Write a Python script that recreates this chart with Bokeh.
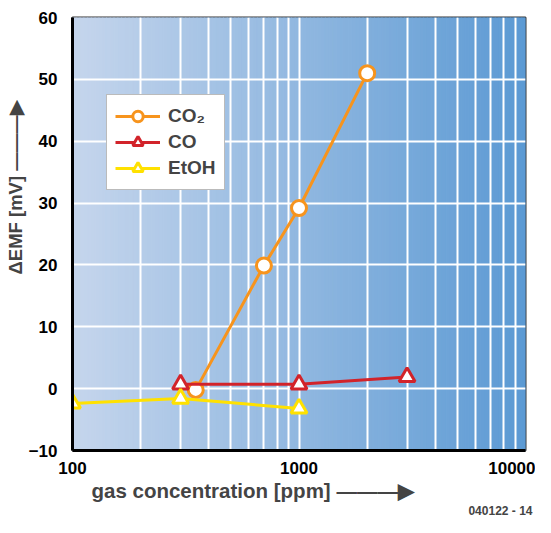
import numpy as np
from bokeh.plotting import figure
from bokeh.models import (Range1d, FixedTicker, Legend, LegendItem, Title,
                          CustomJSTickFormatter)
from bokeh.embed import file_html
from bokeh.resources import INLINE

# ---- data ----
co2_x = [350, 700, 1000, 2000]
co2_y = [-0.2, 19.9, 29.2, 51.0]
co_x = [300, 1000, 3000]
co_y = [0.7, 0.7, 1.9]
etoh_x = [100, 300, 1000]
etoh_y = [-2.4, -1.6, -3.2]
x_ticks = [100, 1000, 10000]
y_ticks = [-10, 0, 10, 20, 30, 40, 50, 60]

FONT = "Liberation Sans"
ARROW = "\u2014\u2014\u2014\u25B6"

p = figure(width=535, height=517, x_axis_type="log",
           x_range=Range1d(100, 10000), y_range=Range1d(-10, 60),
           output_backend="svg", toolbar_location=None,
           min_border_left=72, min_border_right=10, min_border_top=17,
           min_border_bottom=60)

# gradient background
N = 120
edges = np.logspace(2, 4, N + 1)
c0 = np.array([198, 214, 237])
c1 = np.array([92, 154, 212])
cols = []
for i in range(N):
    t = (i + 0.5) / N
    c = (c0 * (1 - t) + c1 * t).astype(int)
    cols.append("#%02x%02x%02x" % tuple(c))
p.quad(left=edges[:-1], right=edges[1:], bottom=-10, top=60, fill_color=cols,
       line_color=cols, line_width=1, level="underlay")

p.xgrid.grid_line_color = "white"
p.ygrid.grid_line_color = "white"
p.xgrid.grid_line_width = 2
p.ygrid.grid_line_width = 2
p.xgrid.minor_grid_line_color = "white"
p.xgrid.minor_grid_line_width = 2
p.xgrid.level = "underlay"
p.ygrid.level = "underlay"

p.xaxis.ticker = FixedTicker(ticks=x_ticks,
                             minor_ticks=[v * m for v in [100, 1000] for m in range(2, 10)])
p.yaxis.ticker = FixedTicker(ticks=y_ticks)
for ax in (p.xaxis, p.yaxis):
    ax.axis_line_width = 3
    ax.axis_line_color = "black"
    ax.major_tick_line_color = None
    ax.minor_tick_line_color = None
    ax.major_label_text_font = FONT
    ax.major_label_text_font_style = "bold"
    ax.major_label_text_font_size = "17px"
    ax.major_label_text_color = "black"
p.xaxis.major_label_standoff = 5
p.yaxis.major_label_standoff = 9
p.xaxis.formatter = CustomJSTickFormatter(code="return tick.toFixed(0);")

p.outline_line_color = "#333333"
p.outline_line_width = 2

# axis titles with arrows, and the figure code
p.add_layout(Title(text="gas concentration [ppm]  " + ARROW, align="left", offset=19,
                   text_font=FONT, text_font_style="bold", text_font_size="20.5px",
                   standoff=0), "below")
p.add_layout(Title(text="040122 - 14", align="right", offset=-7,
                   text_font=FONT, text_font_style="bold", text_font_size="12px",
                   standoff=0), "below")
p.add_layout(Title(text="\u0394EMF [mV]  " + ARROW, align="left", offset=176,
                   text_font=FONT, text_font_style="bold", text_font_size="18.5px",
                   standoff=0), "left")

# series
l1 = p.line(co2_x, co2_y, line_color="#f7941d", line_width=3)
m1 = p.scatter(co2_x, co2_y, marker="circle", size=15, fill_color="white",
               line_color="#f7941d", line_width=3)
l2 = p.line(co_x, co_y, line_color="#d2232a", line_width=3)
m2 = p.scatter(co_x, co_y, marker="triangle", size=16, fill_color="white",
               line_color="#d2232a", line_width=3)
l3 = p.line(etoh_x, etoh_y, line_color="#ffe100", line_width=3)
m3 = p.scatter(etoh_x, etoh_y, marker="triangle", size=16, fill_color="white",
               line_color="#ffe100", line_width=3)

legend = Legend(items=[LegendItem(label="CO\u2082", renderers=[l1, m1]),
                       LegendItem(label="CO", renderers=[l2, m2]),
                       LegendItem(label="EtOH", renderers=[l3, m3])],
                location=(34, 260))
legend.label_text_font = FONT
legend.label_text_font_style = "bold"
legend.label_text_font_size = "19px"
legend.border_line_color = "#777777"
legend.border_line_width = 1.5
legend.background_fill_alpha = 1
legend.glyph_width = 45
legend.glyph_height = 26
legend.label_height = 26
legend.label_standoff = 8
legend.padding = 8
legend.spacing = 0
p.add_layout(legend, "center")

open("out.html", "w").write(file_html(p, INLINE))
